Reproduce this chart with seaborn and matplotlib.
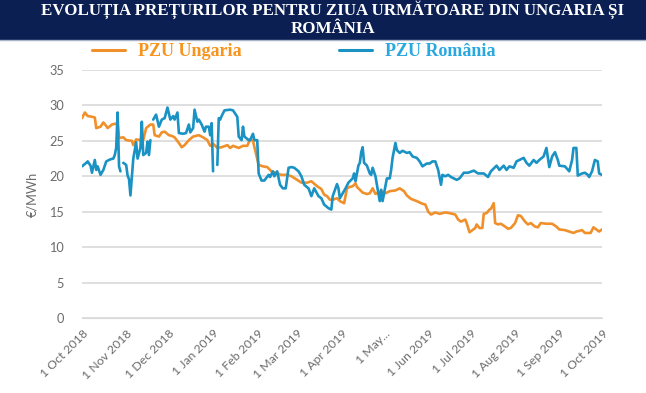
import pandas as pd
import numpy as np
import matplotlib
matplotlib.use("Agg")
import matplotlib.pyplot as plt
import matplotlib.dates as mdates
from matplotlib.lines import Line2D
from matplotlib.patches import Rectangle
import seaborn as sns

# --- data (day offsets from 1 Oct 2018, EUR/MWh) ---
start = pd.Timestamp("2018-10-01")

hu_days = [0, 2, 4, 7, 9, 10, 13, 15, 17, 18, 21, 23, 25, 26, 29, 31, 35, 36, 38, 41,
           43, 45, 48, 50, 51, 54, 56, 58, 61, 63, 65, 68, 70, 72, 75, 78, 82, 85, 88, 90,
           92, 95, 98, 102, 104, 106, 110, 113, 116, 118, 120, 122, 124, 127, 130, 133, 137, 140, 144, 147,
           151, 154, 158, 161, 165, 168, 170, 172, 174, 176, 179, 181, 184, 186, 188, 190, 192, 193, 195, 197,
           200, 202, 204, 206, 208, 210, 213, 216, 220, 223, 226, 228, 231, 235, 238, 241, 243, 245, 248, 251,
           255, 258, 262, 264, 266, 269, 270, 272, 274, 276, 277, 279, 281, 282, 284, 286, 287, 289, 290, 292,
           294, 297, 299, 301, 304, 306, 308, 311, 313, 315, 318, 320, 322, 326, 330, 333, 335, 339, 342, 345,
           347, 351, 353, 355, 357, 359, 361, 363, 365]
hu_vals = [28.2, 29.0, 28.5, 28.4, 28.3, 26.8, 27.0, 27.6, 27.1, 26.8, 27.3, 27.4, 27.4, 25.4, 25.5, 25.1, 25.0, 24.4, 25.2, 25.1,
           25.1, 26.8, 27.3, 27.3, 25.8, 25.6, 26.2, 26.3, 25.8, 25.7, 25.5, 24.7, 24.1, 24.4, 25.1, 25.6, 25.8, 25.5, 25.1, 24.3,
           24.6, 24.0, 24.1, 24.4, 24.0, 24.3, 24.0, 24.3, 24.3, 25.2, 25.0, 23.3, 21.6, 21.4, 21.3, 20.7, 20.4, 20.2, 20.2, 20.0,
           19.5, 19.1, 19.1, 19.3, 18.6, 18.2, 17.4, 17.2, 16.7, 16.7, 16.9, 16.5, 16.2, 18.3, 18.5, 18.6, 19.0, 18.5, 18.1, 17.7,
           17.5, 17.6, 18.3, 17.5, 17.7, 17.9, 17.6, 17.9, 18.0, 18.3, 17.9, 17.3, 16.8, 16.5, 16.2, 16.0, 15.0, 14.6, 14.9, 14.7,
           14.9, 14.8, 14.6, 13.9, 13.6, 13.9, 13.4, 12.1, 12.4, 12.7, 13.2, 12.7, 12.7, 14.7, 14.8, 15.3, 15.4, 16.2, 13.4, 13.2,
           13.3, 12.9, 12.6, 12.7, 13.4, 14.5, 14.4, 13.6, 13.2, 13.4, 12.9, 12.8, 13.4, 13.3, 13.3, 12.9, 12.5, 12.4, 12.2, 12.0,
           12.2, 12.4, 12.0, 12.0, 12.0, 12.8, 12.5, 12.2, 12.5]

# NaN marks a break in the Romanian series
ro_days = [0, 3, 4, 6, 7, 9, 10, 11, 13, 15, 17, 20, 22, 23, 24, 25, 26, 27, 28, 29,
           31, 32, 33, 34, 36, 38, 39, 41, 42, 43, 45, 46, 47, 48, 49, 50, 52, 54, 56, 58,
           60, 62, 64, 65, 67, 68, 71, 73, 75, 76, 78, 79, 81, 82, 84, 86, 87, 89, 90, 91,
           92, 93, 95, 96, 97, 98, 100, 104, 106, 107, 109, 110, 112, 113, 114, 117, 118, 120, 121, 123,
           124, 126, 128, 131, 132, 134, 135, 137, 139, 141, 143, 145, 147, 149, 152, 154, 156, 159, 161, 163,
           166, 168, 170, 173, 175, 176, 179, 180, 181, 183, 185, 187, 188, 190, 191, 192, 194, 195, 196, 197,
           198, 200, 202, 203, 204, 206, 207, 209, 210, 211, 213, 214, 216, 217, 218, 220, 221, 223, 225, 228,
           230, 232, 235, 237, 239, 242, 244, 246, 248, 250, 252, 253, 255, 257, 259, 263, 265, 268, 271, 275,
           278, 282, 285, 287, 291, 293, 296, 298, 300, 303, 305, 307, 310, 312, 314, 317, 319, 321, 324, 326,
           328, 330, 332, 334, 335, 339, 342, 344, 345, 347, 348, 351, 353, 355, 356, 358, 360, 362, 363, 365]
ro_vals = [21.4, 21.9, 22.1, 21.5, 20.5, 22.3, 20.9, 21.4, 20.2, 20.9, 22.1, 22.4, 22.5, 23.0, 24.0, 29.0, 21.4, 20.7, np.nan, 21.9,
           21.6, 20.1, 19.6, 17.3, 22.5, 24.8, 22.5, 24.0, 27.7, 23.0, 23.3, 24.9, 23.0, 25.1, np.nan, 28.0, 28.7, 27.0, 28.0, 28.2,
           29.7, 28.0, 28.5, 28.0, 29.0, 26.1, 26.0, 26.1, 27.3, 26.2, 26.8, 29.4, 27.7, 28.0, 27.3, 26.3, 27.0, 27.0, 25.8, 27.5,
           20.7, np.nan, 21.6, 28.2, 28.0, 28.5, 29.3, 29.4, 29.3, 29.0, 28.4, 25.6, 25.1, 27.0, 25.6, 25.1, 25.1, 26.0, 25.1, 25.1,
           20.4, 19.4, 19.4, 20.2, 19.9, 20.7, 20.0, 20.7, 18.8, 18.3, 18.3, 21.2, 21.3, 21.2, 20.7, 20.0, 18.8, 18.3, 17.2, 18.3,
           17.2, 16.9, 16.0, 15.5, 15.3, 17.2, 18.9, 18.3, 16.9, 17.6, 18.3, 19.1, 19.3, 19.7, 20.4, 19.3, 21.5, 21.9, 23.4, 24.1,
           21.9, 21.5, 20.4, 20.2, 21.2, 20.0, 18.8, 16.5, 18.1, 16.5, 18.6, 19.7, 19.7, 20.9, 22.6, 24.7, 23.7, 23.3, 23.6, 23.3,
           23.4, 22.8, 22.6, 22.1, 21.4, 21.8, 21.8, 22.1, 22.1, 20.9, 18.8, 20.2, 20.0, 20.2, 19.9, 19.5, 19.7, 20.5, 20.5, 20.8,
           20.4, 20.4, 19.9, 20.7, 21.5, 20.9, 21.5, 20.9, 21.4, 21.2, 22.1, 22.3, 22.6, 21.9, 21.5, 22.3, 21.9, 22.3, 22.8, 24.0,
           21.3, 22.8, 23.4, 22.3, 21.5, 21.4, 20.7, 22.3, 24.0, 24.0, 20.1, 20.4, 20.5, 20.2, 19.9, 20.7, 22.3, 22.1, 20.4, 20.2]

series_names = ["PZU Ungaria", "PZU România"]
colors = ["#F0902A", "#1A92C4"]
legend_colors = ["#F7941D", "#29A8DF"]
tick_labels = ["1 Oct 2018", "1 Nov 2018", "1 Dec 2018", "1 Jan 2019", "1 Feb 2019",
               "1 Mar 2019", "1 Apr 2019", "1 May...", "1 Jun 2019", "1 Jul 2019",
               "1 Aug 2019", "1 Sep 2019", "1 Oct 2019"]
title_lines = ["EVOLUȚIA PREȚURILOR PENTRU ZIUA URMĂTOARE DIN UNGARIA ȘI", "ROMÂNIA"]

# --- build long table; segments split the Romanian line at gaps ---
hu = pd.DataFrame({"day": hu_days, "price": hu_vals, "serie": series_names[0]})
ro = pd.DataFrame({"day": ro_days, "price": ro_vals, "serie": series_names[1]})
for d in (hu, ro):
    d["seg"] = d["price"].isna().cumsum()
df = pd.concat([hu, ro]).dropna().reset_index(drop=True)
df["date"] = start + pd.to_timedelta(df["day"], unit="D")
df["unit"] = df["serie"] + df["seg"].astype(str)

# --- plot ---
sns.set_style("white")
grey = "#6B6B6B"
W, H = 646, 393
fig = plt.figure(figsize=(W / 100, H / 100), dpi=100)
ax = fig.add_axes([82 / W, 1 - 318 / H, 520 / W, 248 / H])

sns.lineplot(data=df, x="date", y="price", hue="serie", units="unit", estimator=None,
             palette=dict(zip(series_names, colors)), hue_order=series_names,
             lw=1.9, legend=False, sort=False, ax=ax)

ax.set_xlim(start, pd.Timestamp("2019-10-01"))
ax.set_ylim(0, 35)
ax.set_yticks(range(0, 36, 5))
ax.yaxis.grid(True, color="#D9D9D9", lw=1.2)
ax.set_axisbelow(True)
ax.xaxis.set_major_locator(mdates.MonthLocator())
ax.set_xticks(ax.get_xticks())
ax.set_xticklabels(tick_labels, rotation=45, ha="right", rotation_mode="anchor",
                   fontsize=8.8, color=grey, family="Lato")
for lab in ax.get_yticklabels():
    lab.set_family("Lato")
ax.tick_params(axis="y", length=0, labelsize=9.2, labelcolor=grey, pad=13)
ax.tick_params(axis="x", length=4, color="#D9D9D9", width=1, pad=3)
for s in ["top", "right", "left"]:
    ax.spines[s].set_visible(False)
ax.spines["bottom"].set_color("#D9D9D9")
ax.set_xlabel("")
ax.set_ylabel("€/MWh", fontsize=9.2, color=grey, family="Lato", labelpad=8)

# title banner
fig.patches.append(Rectangle((0, 1 - 39 / H), 1, 39 / H, transform=fig.transFigure,
                             color="#0B1F52", zorder=0))
fig.add_artist(Line2D([0, 1], [1 - 39.5 / H] * 2, color="#A9B3C6", lw=1))
fig.text(333 / W, 1 - 15 / H, title_lines[0], ha="center", va="baseline", color="white",
         family="Liberation Serif", weight="bold", fontsize=12.2)
fig.text(333 / W, 1 - 33 / H, title_lines[1], ha="center", va="baseline", color="white",
         family="Liberation Serif", weight="bold", fontsize=12.2)

# legend
handles = [Line2D([], [], color=c, lw=2.2) for c in colors]
leg = fig.legend(handles, series_names, loc="center left", bbox_to_anchor=(76 / W, 1 - 52 / H),
                 ncol=2, frameon=False, handlelength=1.8, handletextpad=0.75, columnspacing=5.4,
                 prop={"family": "Liberation Serif", "weight": "bold", "size": 13})
for t, c in zip(leg.get_texts(), legend_colors):
    t.set_color(c)

fig.savefig("out.png", dpi=100)
